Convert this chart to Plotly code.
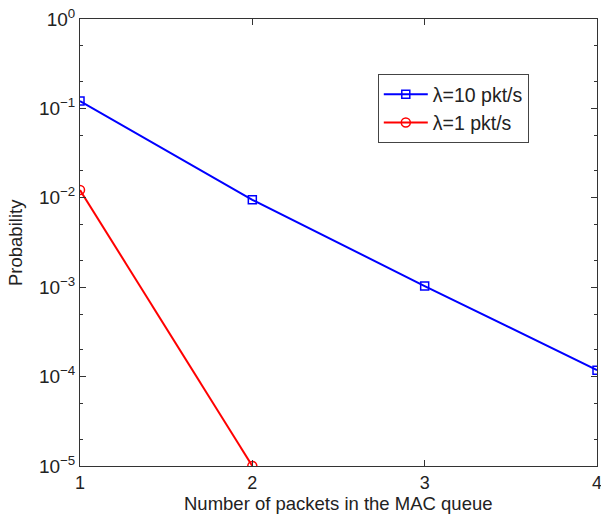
import plotly.graph_objects as go

packets = [1, 2, 3, 4]
prob_10 = [0.121, 0.0095, 0.00103, 0.000118]
packets_1 = [1, 2]
prob_1 = [0.0122, 0.00001]
x_ticks = [1, 2, 3, 4]
y_tickvals = [1e-5, 1e-4, 1e-3, 1e-2, 1e-1, 1]
y_ticktext = ["10<sup>−5</sup>", "10<sup>−4</sup>", "10<sup>−3</sup>", "10<sup>−2</sup>", "10<sup>−1</sup>", "10<sup>0</sup>"]

FONT = "Liberation Sans, Arial"

fig = go.Figure()
fig.add_trace(go.Scatter(x=packets, y=prob_10, mode="lines+markers", name="λ=10 pkt/s",
                         line=dict(color="#0000ff", width=2),
                         marker=dict(symbol="square-open", size=8, color="#0000ff", line=dict(width=1.5))))
fig.add_trace(go.Scatter(x=packets_1, y=prob_1, mode="lines+markers", name="λ=1 pkt/s",
                         line=dict(color="#ff0000", width=2),
                         marker=dict(symbol="circle-open", size=9, color="#ff0000", line=dict(width=1.5))))

axis_common = dict(showline=True, linecolor="#333333", linewidth=1, mirror="ticks",
                   ticks="inside", tickcolor="#333333", showgrid=False, zeroline=False,
                   automargin=False, ticklabeloverflow="allow")

fig.update_xaxes(range=[1, 4], tickvals=x_ticks, ticklen=6,
                 tickfont=dict(family=FONT, size=18, color="#222222"), **axis_common)
fig.update_yaxes(type="log", range=[-5, 0], tickvals=y_tickvals, ticktext=y_ticktext, ticklen=6,
                 minor=dict(ticks="inside", ticklen=3, tickcolor="#333333", showgrid=False),
                 tickfont=dict(family=FONT, size=19, color="#222222"), **axis_common)

fig.add_annotation(text="Number of packets in the MAC queue", xref="paper", yref="paper",
                   x=0.5, y=0, xanchor="center", yanchor="middle", yshift=-37, showarrow=False,
                   font=dict(family=FONT, size=18.5, color="#222222"))
fig.add_annotation(text="Probability", xref="paper", yref="paper",
                   x=0, y=0.5, xanchor="center", yanchor="middle", xshift=-64.5, textangle=-90,
                   showarrow=False, font=dict(family=FONT, size=18.5, color="#222222"))

fig.update_layout(
    width=601, height=520,
    margin=dict(l=80, r=4, t=19, b=54),
    plot_bgcolor="white", paper_bgcolor="white",
    font=dict(family=FONT, color="#222222"),
    legend=dict(x=0.576, y=0.877, xanchor="left", yanchor="top",
                bordercolor="#444444", borderwidth=1, bgcolor="white",
                font=dict(family=FONT, size=19.5, color="#222222"),
                itemwidth=44, tracegroupgap=0),
    showlegend=True,
)

fig.write_html("out.html", config={"displayModeBar": False},
               post_script="document.body.style.margin='0';")
